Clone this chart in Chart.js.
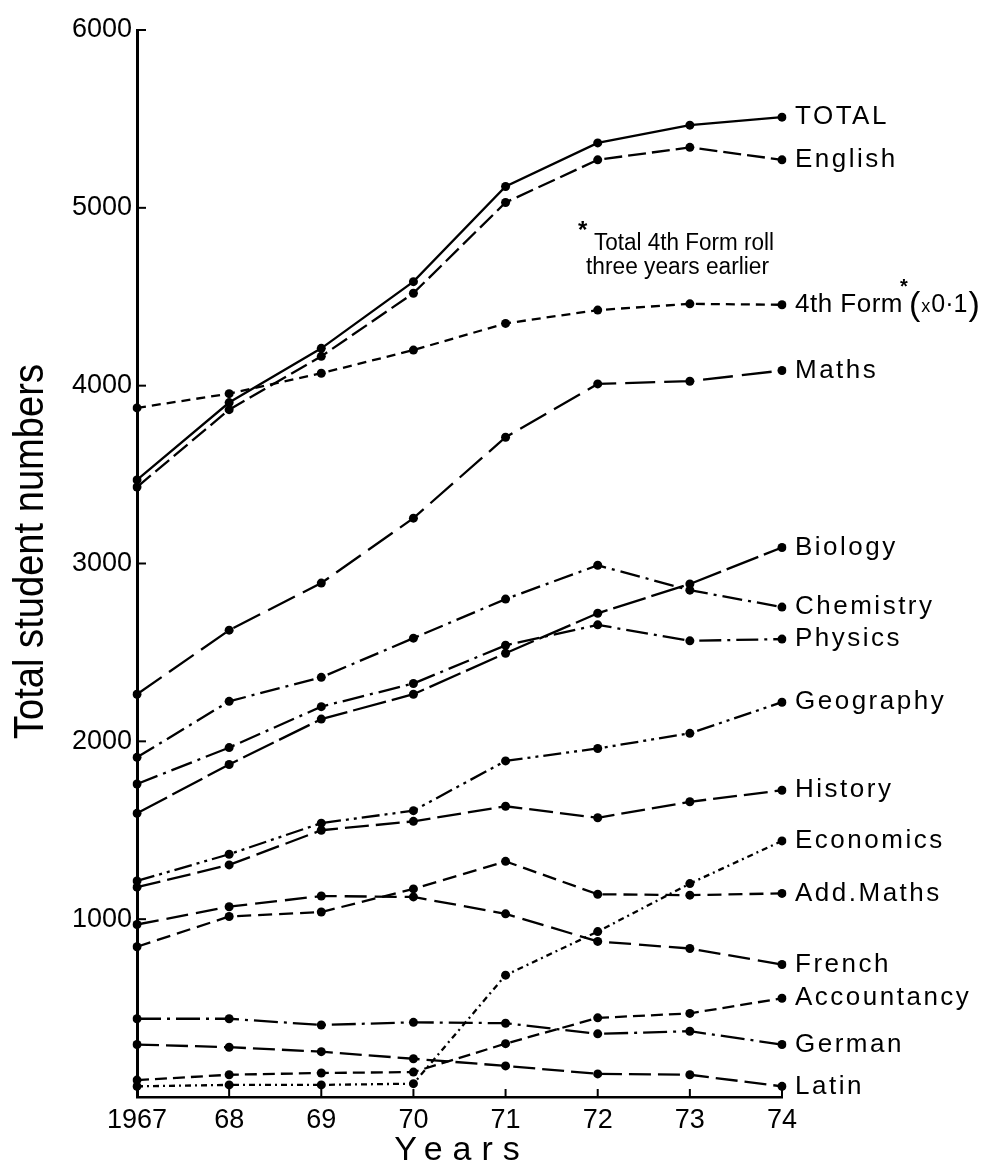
<!DOCTYPE html>
<html>
<head>
<meta charset="utf-8">
<script src="https://cdn.jsdelivr.net/npm/chart.js@4/dist/chart.umd.min.js"></script>
<style>
  html, body { margin: 0; padding: 0; background: #fff; }
  #wrap { width: 989px; height: 1168px; }
</style>
</head>
<body>
<div id="wrap"><canvas id="chart" width="989" height="1168"></canvas></div>
<script>
// Years on the x axis
const years = ['1967', '68', '69', '70', '71', '72', '73', '74'];

// Student numbers per subject
const total       = [3470, 3905, 4210, 4585, 5120, 5365, 5465, 5510];
const english     = [3430, 3865, 4165, 4520, 5030, 5270, 5340, 5270];
const fourthForm  = [3875, 3955, 4070, 4200, 4350, 4425, 4460, 4455];
const maths       = [2265, 2625, 2890, 3255, 3710, 4010, 4025, 4085];
const biology     = [1595, 1870, 2125, 2265, 2495, 2720, 2885, 3090];
const chemistry   = [1910, 2225, 2360, 2580, 2800, 2990, 2850, 2755];
const physics     = [1760, 1965, 2195, 2325, 2540, 2655, 2565, 2575];
const geography   = [1215, 1365, 1540, 1610, 1890, 1960, 2045, 2220];
const history     = [1180, 1305, 1500, 1550, 1635, 1570, 1660, 1725];
const economics   = [60, 68, 68, 75, 685, 930, 1200, 1440];
const addMaths    = [845, 1015, 1040, 1170, 1325, 1140, 1135, 1145];
const french      = [970, 1070, 1130, 1125, 1030, 875, 835, 745];
const accountancy = [95, 125, 135, 140, 300, 445, 470, 555];
const german      = [440, 440, 405, 420, 415, 355, 370, 295];
const latin       = [295, 280, 255, 215, 175, 130, 125, 60];

const yTicks = [1000, 2000, 3000, 4000, 5000, 6000];

const series = [
    { label: 'TOTAL',       data: total,       dash: [] },
    { label: 'English',     data: english,     dash: [18, 6] },
    { label: '4th Form',    data: fourthForm,  dash: [9, 6] },
    { label: 'Maths',       data: maths,       dash: [30, 9] },
    { label: 'Biology',     data: biology,     dash: [34, 6] },
    { label: 'Chemistry',   data: chemistry,   dash: [20, 6, 3, 6] },
    { label: 'Physics',     data: physics,     dash: [22, 6, 3, 6] },
    { label: 'Geography',   data: geography,   dash: [18, 5, 3, 5, 3, 5] },
    { label: 'History',     data: history,     dash: [24, 7] },
    { label: 'Economics',   data: economics,   dash: [6, 4, 2, 4] },
    { label: 'Add.Maths',   data: addMaths,    dash: [14, 7] },
    { label: 'French',      data: french,      dash: [22, 8] },
    { label: 'Accountancy', data: accountancy, dash: [12, 6] },
    { label: 'German',      data: german,      dash: [24, 6, 3, 6] },
    { label: 'Latin',       data: latin,       dash: [22, 7] }
];

const FONT = '"Liberation Sans", Arial, sans-serif';

// draw text squeezed/stretched to a given width
function fitText(ctx, text, x, y, width) {
    const w = ctx.measureText(text).width;
    ctx.save();
    ctx.translate(x, y);
    ctx.scale(width / w, 1);
    ctx.fillText(text, 0, 0);
    ctx.restore();
}

const decorations = {
    id: 'decorations',
    afterDraw(chart) {
        const ctx = chart.ctx;
        const xs = chart.scales.x;
        const ys = chart.scales.y;
        const area = chart.chartArea;

        ctx.save();
        ctx.strokeStyle = '#000';
        ctx.fillStyle = '#000';
        ctx.lineWidth = 2;

        // inward ticks
        yTicks.forEach(v => {
            const py = ys.getPixelForValue(v);
            ctx.beginPath();
            ctx.moveTo(area.left, py);
            ctx.lineTo(area.left + 9, py);
            ctx.stroke();
        });
        years.forEach((_, i) => {
            const px = xs.getPixelForValue(i);
            ctx.beginPath();
            ctx.moveTo(px, area.bottom);
            ctx.lineTo(px, area.bottom - 8);
            ctx.stroke();
        });

        // end-of-line labels
        ctx.textBaseline = 'middle';
        ctx.textAlign = 'left';
        const labelFont = '26px ' + FONT;
        chart.data.datasets.forEach((ds, i) => {
            const pts = chart.getDatasetMeta(i).data;
            const last = pts[pts.length - 1];
            const x0 = last.x + 13;
            ctx.font = labelFont;
            if (ds.label === '4th Form') {
                ctx.letterSpacing = '0.5px';
                ctx.fillText(ds.label, x0, last.y);
                const w = ctx.measureText(ds.label).width;
                let x = x0 + w;
                ctx.letterSpacing = '0px';
                ctx.font = 'bold 20px ' + FONT;
                ctx.fillText('*', x - 3, last.y - 17);
                x += 6;
                ctx.font = '34px ' + FONT;
                ctx.fillText('(', x, last.y + 1);
                x += ctx.measureText('(').width + 1;
                ctx.font = '18px ' + FONT;
                ctx.fillText('x', x, last.y + 2);
                x += ctx.measureText('x').width + 1;
                ctx.font = '25px ' + FONT;
                ctx.fillText('0·1', x, last.y);
                x += ctx.measureText('0·1').width + 1;
                ctx.font = '34px ' + FONT;
                ctx.fillText(')', x, last.y + 1);
            } else {
                ctx.letterSpacing = '2.5px';
                ctx.fillText(ds.label, x0, last.y);
            }
        });
        ctx.letterSpacing = '0px';

        // footnote
        const nx = xs.getPixelForValue(4.96);
        ctx.font = '23px ' + FONT;
        fitText(ctx, 'Total 4th Form roll', nx, ys.getPixelForValue(4800), 180);
        fitText(ctx, 'three years earlier', nx - 8, ys.getPixelForValue(4665), 183);
        ctx.font = 'bold 24px ' + FONT;
        ctx.fillText('*', nx - 16, ys.getPixelForValue(4865));

        // axis titles
        ctx.textAlign = 'center';
        ctx.font = '42px ' + FONT;
        ctx.save();
        ctx.translate(31, (area.top + area.bottom) / 2 - 12);
        ctx.rotate(-Math.PI / 2);
        const tw = ctx.measureText('Total student numbers').width;
        ctx.scale(375 / tw, 1);
        ctx.fillText('Total student numbers', 0, 0);
        ctx.restore();

        ctx.font = '34px ' + FONT;
        ctx.letterSpacing = '10px';
        ctx.fillText('Years', 462, 1151);
        ctx.restore();
    }
};

new Chart(document.getElementById('chart'), {
    type: 'line',
    data: {
        labels: years,
        datasets: series.map(s => ({
            label: s.label,
            data: s.data,
            borderColor: '#000',
            borderWidth: 2.3,
            borderDash: s.dash,
            pointRadius: 4.5,
            pointBackgroundColor: '#000',
            pointBorderColor: '#000',
            pointBorderWidth: 0,
            tension: 0,
            fill: false
        }))
    },
    options: {
        responsive: false,
        animation: false,
        layout: { padding: { top: 30, right: 207, bottom: 0, left: 0 } },
        plugins: {
            legend: { display: false },
            tooltip: { enabled: false }
        },
        scales: {
            x: {
                type: 'category',
                offset: false,
                grid: { display: true, drawOnChartArea: false, drawTicks: false },
                border: { display: true, color: '#000', width: 2.5 },
                ticks: {
                    color: '#000',
                    padding: 7,
                    autoSkip: false,
                    maxRotation: 0,
                    font: { family: FONT, size: 27 }
                },
                afterFit(scale) { scale.height = 71; }
            },
            y: {
                min: 0,
                max: 6000,
                grid: { display: true, drawOnChartArea: false, drawTicks: false },
                border: { display: true, color: '#000', width: 3 },
                ticks: {
                    stepSize: 1000,
                    color: '#000',
                    padding: 5,
                    font: { family: FONT, size: 27 },
                    callback: v => (v === 0 ? null : String(v))
                },
                afterFit(scale) { scale.width = 137; }
            }
        }
    },
    plugins: [decorations]
});
</script>
</body>
</html>
